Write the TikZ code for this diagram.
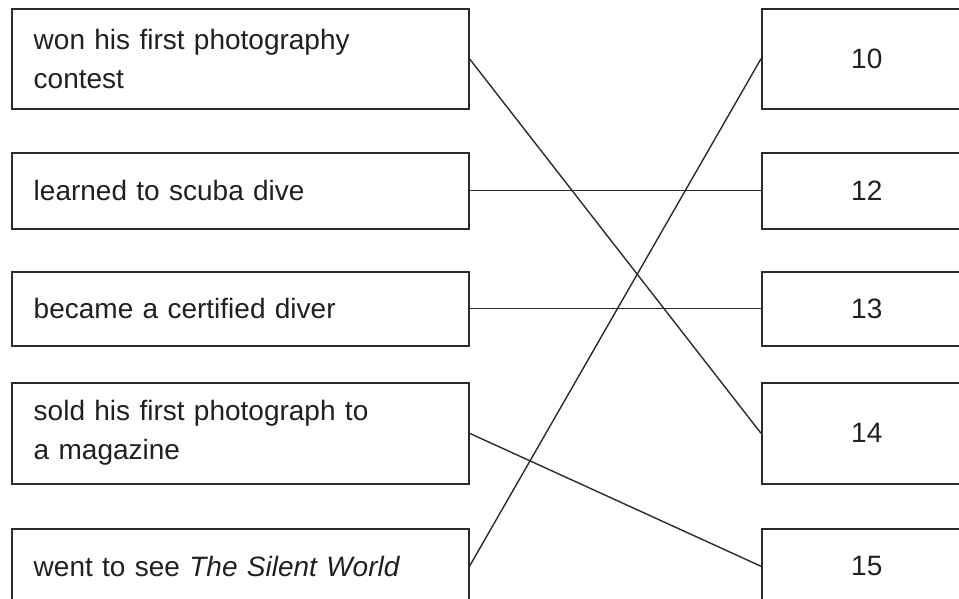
\documentclass[tikz,border=0pt]{standalone}
\usepackage{fontspec}
\setmainfont{Liberation Sans}
\definecolor{ink}{HTML}{231F20}
\definecolor{edge}{HTML}{2B2B2B}
\begin{document}
\begin{tikzpicture}[x=1pt,y=-1pt,
  lbox/.style={draw=edge, line width=1.5pt, rectangle, anchor=north west,
    text width=413pt, inner xsep=22pt, inner ysep=0pt, align=left,
    font=\fontsize{28}{39}\selectfont, text=ink},
  rbox/.style={draw=edge, line width=1.5pt, rectangle, anchor=north west,
    minimum width=210pt, inner sep=0pt, align=center,
    font=\fontsize{28}{39}\selectfont, text=ink},
  link/.style={draw=edge, line width=1.4pt}]
\useasboundingbox (0,0) rectangle (959,598);
\clip (0,0) rectangle (959,598);
\node[lbox, minimum height=100pt] (a1) at (11,8) {won his first photography\\contest};
\node[lbox, minimum height=76pt] (a2) at (11,152) {learned to scuba dive};
\node[lbox, minimum height=74pt] (a3) at (11,271) {became a certified diver};
\node[lbox, minimum height=101pt] (a4) at (11,382) {sold his first photograph to\\a magazine};
\node[lbox, minimum height=75pt] (a5) at (11,528) {went to see \textit{The Silent World}};
\node[rbox, minimum height=100pt] (b10) at (761,8) {10};
\node[rbox, minimum height=76pt] (b12) at (761,152) {12};
\node[rbox, minimum height=74pt] (b13) at (761,271) {13};
\node[rbox, minimum height=101pt] (b14) at (761,382) {14};
\node[rbox, minimum height=75pt] (b15) at (761,528) {15};
\draw[link] (a1.east) -- (b14.west);
\draw[link] (a2.east) -- (b12.west);
\draw[link] (a3.east) -- (b13.west);
\draw[link] (a4.east) -- (b15.west);
\draw[link] (a5.east) -- (b10.west);
\end{tikzpicture}
\end{document}
